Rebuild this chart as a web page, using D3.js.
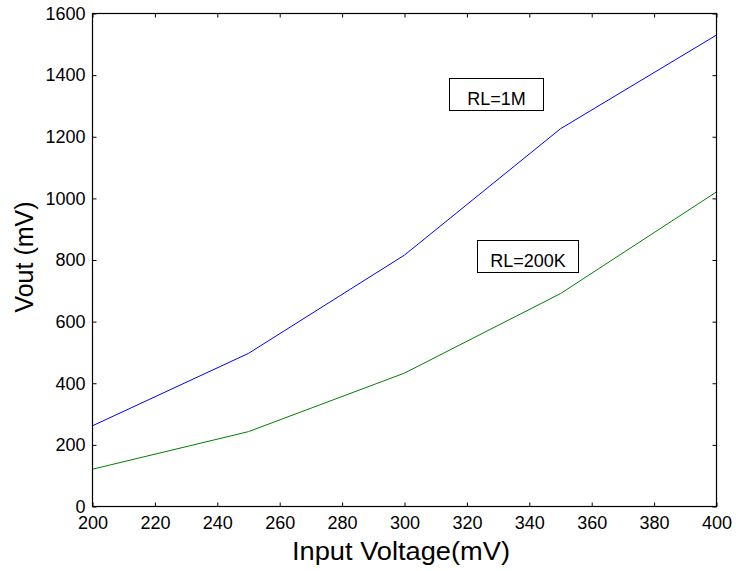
<!DOCTYPE html>
<html>
<head>
<meta charset="utf-8">
<script src="https://cdn.jsdelivr.net/npm/d3@7"></script>
<style>
  body { margin: 0; background: #fff; }
  svg text { font-family: "Liberation Sans", Arial, sans-serif; fill: #000; }
</style>
</head>
<body>
<svg id="chart" width="736" height="571"></svg>
<script>
var inputVoltage = [200, 250, 300, 350, 400];
var vout1M = [262, 497, 816, 1226, 1530];
var vout200K = [121, 243, 433, 691, 1021];
var xTicks = [200, 220, 240, 260, 280, 300, 320, 340, 360, 380, 400];
var yTicks = [0, 200, 400, 600, 800, 1000, 1200, 1400, 1600];

var svg = d3.select("#chart");
// plot box (avoid "top": it clashes with window.top)
var pl = 92.5, pr = 716.5, pt = 13.5, pb = 506.5;

var x = d3.scaleLinear().domain([200, 400]).range([pl, pr]);
var y = d3.scaleLinear().domain([0, 1600]).range([pb, pt]);
var fmt = d3.format("d");

// axes, ticks inward on all four sides
var xb = svg.append("g").attr("transform", "translate(0," + pb + ")")
  .call(d3.axisBottom(x).tickValues(xTicks).tickFormat(fmt).tickSizeInner(-4).tickSizeOuter(0).tickPadding(9.5));
var xt = svg.append("g").attr("transform", "translate(0," + pt + ")")
  .call(d3.axisTop(x).tickValues(xTicks).tickSizeInner(-4).tickSizeOuter(0).tickFormat(""));
var yl = svg.append("g").attr("transform", "translate(" + pl + ",0)")
  .call(d3.axisLeft(y).tickValues(yTicks).tickFormat(fmt).tickSizeInner(-4).tickSizeOuter(0).tickPadding(7));
var yr = svg.append("g").attr("transform", "translate(" + pr + ",0)")
  .call(d3.axisRight(y).tickValues(yTicks).tickSizeInner(-4).tickSizeOuter(0).tickFormat(""));

[xb, xt, yl, yr].forEach(function(g) {
  g.select(".domain").remove();
  g.selectAll("line").attr("stroke", "#000");
  g.selectAll("text").attr("font-size", 18).attr("fill", "#000")
    .style("font-family", "'Liberation Sans', Arial, sans-serif");
});

// lines
var line = d3.line().x(function(d) { return x(d[0]); }).y(function(d) { return y(d[1]); });
svg.append("path")
  .datum(d3.zip(inputVoltage, vout1M))
  .attr("d", line).attr("fill", "none").attr("stroke", "#0000ff").attr("stroke-width", 1);
svg.append("path")
  .datum(d3.zip(inputVoltage, vout200K))
  .attr("d", line).attr("fill", "none").attr("stroke", "#008000").attr("stroke-width", 1);

// frame
svg.append("rect")
  .attr("x", pl).attr("y", pt)
  .attr("width", pr - pl).attr("height", pb - pt)
  .attr("fill", "none").attr("stroke", "#000").attr("stroke-width", 1.2);

// annotation boxes
function note(x0, y0, w, h, label) {
  svg.append("rect").attr("x", x0).attr("y", y0).attr("width", w).attr("height", h)
    .attr("fill", "#fff").attr("stroke", "#000").attr("stroke-width", 1);
  svg.append("text").attr("x", x0 + w / 2).attr("y", y0 + h - 5.5)
    .attr("text-anchor", "middle").attr("font-size", 18).text(label);
}
note(449.5, 78.5, 94, 32, "RL=1M");
note(477.5, 240.5, 101, 32, "RL=200K");

// axis labels
svg.append("text").attr("x", 292).attr("y", 560)
  .attr("font-size", 25).attr("textLength", 218).attr("lengthAdjust", "spacingAndGlyphs")
  .text("Input Voltage(mV)");
svg.append("text").attr("transform", "translate(33,257) rotate(-90)")
  .attr("text-anchor", "middle").attr("font-size", 25).text("Vout (mV)");
</script>
</body>
</html>
